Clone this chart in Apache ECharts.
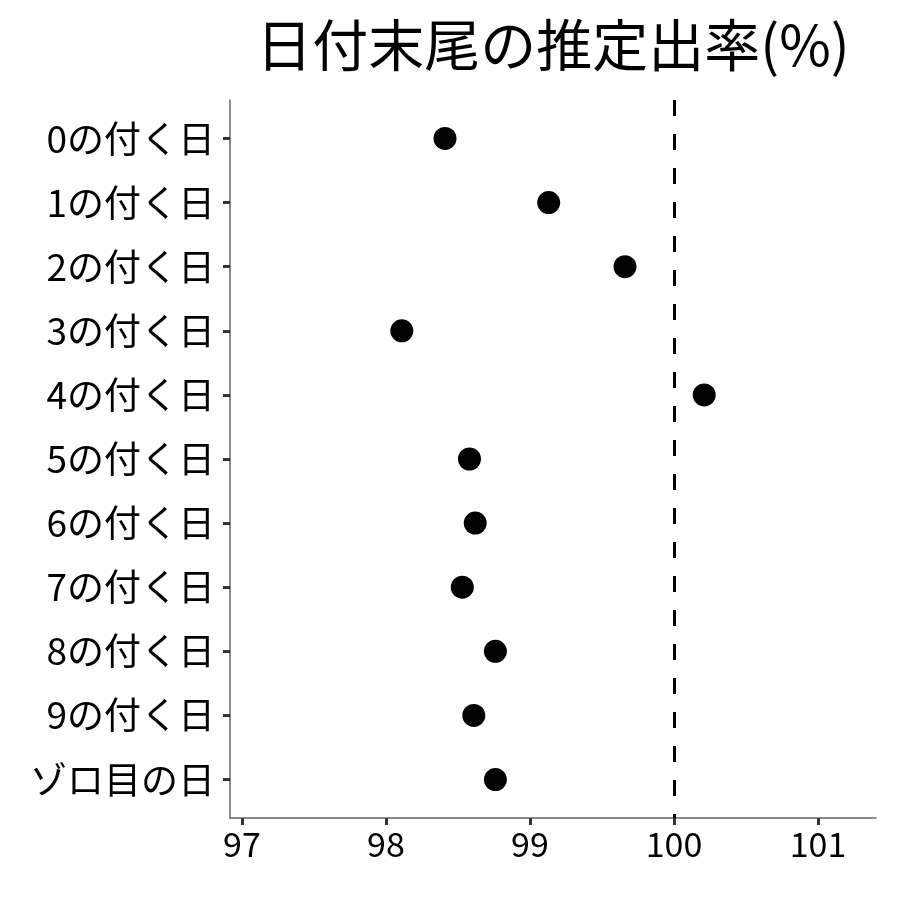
<!DOCTYPE html>
<html>
<head>
<meta charset="utf-8">
<script src="https://cdn.jsdelivr.net/npm/echarts@6/dist/echarts.min.js"></script>
<style>
  html, body { margin: 0; padding: 0; background: #fff; }
  #chart { width: 900px; height: 900px; }
</style>
</head>
<body>
<div id="chart"></div>
<script>
const titleText = '日付末尾の推定出率(%)'
const categories = ['0の付く日', '1の付く日', '2の付く日', '3の付く日', '4の付く日',
  '5の付く日', '6の付く日', '7の付く日', '8の付く日', '9の付く日', 'ゾロ目の日']
const rates = [98.41, 99.13, 99.66, 98.11, 100.21, 98.58, 98.62, 98.53, 98.76, 98.61, 98.76]
const xTicks = [97, 98, 99, 100, 101]
const refLine = 100

const font = '"Noto Sans CJK JP", "Noto Sans", sans-serif'

const chart = echarts.init(document.getElementById('chart'))
const points = rates.map((v, i) => [v, i])
const yTicks = categories.map((c, i) => i)

chart.setOption({
  backgroundColor: '#ffffff',
  animation: false,
  graphic: [
    {
      type: 'text',
      x: 553,
      y: 45,
      style: {
        text: titleText,
        font: '56px ' + font,
        fill: '#000',
        textAlign: 'center',
        textVerticalAlign: 'middle'
      }
    }
  ],
  grid: {
    left: 230,
    right: 24,
    top: 100,
    bottom: 82
  },
  xAxis: {
    type: 'value',
    min: 96.917,
    max: 101.403,
    splitLine: { show: false },
    axisLine: { show: true, onZero: false, lineStyle: { color: '#666', width: 1.5 } },
    axisTick: { show: true, customValues: xTicks, length: 7, lineStyle: { color: '#333', width: 3 } },
    axisLabel: {
      customValues: xTicks,
      color: '#000',
      fontSize: 34,
      fontFamily: font,
      margin: 9
    }
  },
  yAxis: {
    type: 'value',
    inverse: true,
    min: -0.6,
    max: categories.length - 0.4,
    splitLine: { show: false },
    axisLine: { show: true, onZero: false, lineStyle: { color: '#666', width: 1.5 } },
    axisTick: { show: true, customValues: yTicks, length: 7, lineStyle: { color: '#333', width: 3 } },
    axisLabel: {
      customValues: yTicks,
      formatter: v => categories[Math.round(v)] || '',
      color: '#000',
      fontSize: 37,
      fontFamily: font,
      margin: 15
    }
  },
  series: [
    {
      type: 'scatter',
      data: points,
      symbol: 'circle',
      symbolSize: 23,
      itemStyle: { color: '#000', opacity: 1 },
      markLine: {
        silent: true,
        symbol: 'none',
        label: { show: false },
        lineStyle: { color: '#000', width: 3, type: [16, 18], opacity: 1 },
        data: [{ xAxis: refLine }]
      }
    }
  ]
})
</script>
</body>
</html>
